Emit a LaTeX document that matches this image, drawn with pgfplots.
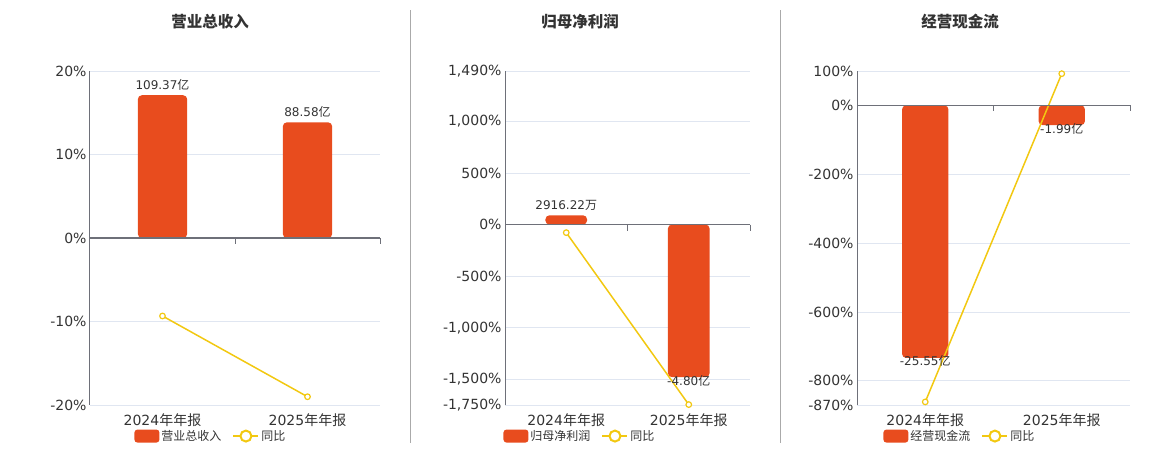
\documentclass[border=0pt]{standalone}
\usepackage{fontspec}
\setmainfont{DejaVu Sans}
\newfontfamily\cjk{Noto Sans CJK SC}
\usepackage{pgfplots}
\pgfplotsset{compat=1.18}
\definecolor{barc}{HTML}{E84C1E}
\definecolor{linec}{HTML}{F2C811}
\definecolor{txt}{HTML}{333333}
\definecolor{gridc}{HTML}{E0E6F1}
\definecolor{axc}{HTML}{6E7079}
\definecolor{sepc}{HTML}{AAAAAA}
\protected\def\yi{{\cjk 亿}}
\protected\def\wan{{\cjk 万}}
\pgfplotsset{
  panel/.style={
    scale only axis, height=334pt,
    xmin=-0.5, xmax=1.5,
    axis y line*=left, axis x line*=bottom,
    x axis line style={draw=none},
    y axis line style={axc, line width=1pt},
    xtick={0,1}, xticklabels={{2024{\cjk 年年报}},{2025{\cjk 年年报}}},
    major tick style={draw=none},
    ymajorgrids, grid style={gridc, line width=0.8pt},
    tick label style={font=\fontsize{14}{16}\selectfont, text=txt},
    xticklabel style={yshift=-5pt},
    yticklabel={\pgfmathprintnumber[assume math mode=true]{\tick}\%},
    scaled y ticks=false,
    clip=false,
    legend style={draw=none, fill=none, font=\fontsize{12}{14}\selectfont\cjk, text=txt,
      legend columns=-1, anchor=center,
      /tikz/every even column/.append style={column sep=9pt}},
  },
  barpos/.style={ybar, bar width=0.34, bar shift=0pt, fill=barc, draw=none, rounded corners=4pt,
    point meta=explicit symbolic, nodes near coords,
    every node near coord/.append style={font=\fontsize{12}{14}\selectfont, text=txt, yshift=1pt},
    legend image code/.code={\fill[barc, rounded corners=3pt] (0pt,-6.5pt) rectangle (25pt,6.5pt);}},
  barneg/.style={ybar, bar width=0.34, bar shift=0pt, fill=barc, draw=none, rounded corners=4pt,
    point meta=explicit symbolic, nodes near coords,
    every node near coord/.append style={font=\fontsize{12}{14}\selectfont, text=txt, yshift=-12.5pt},
    legend image code/.code={\fill[barc, rounded corners=3pt] (0pt,-6.5pt) rectangle (25pt,6.5pt);}},
  yoy/.style={linec, line width=1.5pt, mark=*, mark size=2.8pt,
    mark options={fill=white, draw=linec, line width=1.2pt},
    legend image code/.code={\draw[linec, line width=2pt] (0pt,0pt) -- (25pt,0pt);
      \draw[linec, line width=2pt, fill=white] (12.5pt,0pt) circle (5.5pt);}},
}
\begin{document}
\begin{tikzpicture}
\path[use as bounding box] (0pt,0pt) rectangle (1160pt,450pt);
% Panel 1
\begin{axis}[panel, at={(90pt,45pt)}, anchor=south west, width=290pt,
  ymin=-20, ymax=20, ytick={-20,-10,0,10,20},
  legend style={at={(0.417,-0.093)}}]
\addplot[barpos] coordinates {(0,17.1) [109.37\yi] (1,13.85) [88.58\yi]};
\addlegendentry{营业总收入}
\addplot[yoy] coordinates {(0,-9.34) (1,-19.01)};
\addlegendentry{同比}
\draw[axc, line width=1.6pt] (axis cs:-0.5,0) -- (axis cs:1.5,0);
\draw[axc, line width=1pt] (axis cs:0.5,0) -- ++(0pt,-6pt);
\draw[axc, line width=1pt] (axis cs:1.5,0) -- ++(0pt,-6pt);
\end{axis}
% Panel 2
\begin{axis}[panel, at={(505pt,45pt)}, anchor=south west, width=245pt,
  ymin=-1750, ymax=1490, ytick={-1750,-1500,-1000,-500,0,500,1000,1490},
  legend style={at={(0.306,-0.093)}}]
\addplot[barpos] coordinates {(0,90) [2916.22\wan]};
\addlegendentry{归母净利润}
\addplot[barneg, forget plot] coordinates {(1,-1480) [-4.80\yi]};
\addplot[yoy] coordinates {(0,-78) (1,-1746)};
\addlegendentry{同比}
\draw[axc, line width=1.6pt] (axis cs:-0.5,0) -- (axis cs:1.5,0);
\draw[axc, line width=1pt] (axis cs:0.5,0) -- ++(0pt,-6pt);
\draw[axc, line width=1pt] (axis cs:1.5,0) -- ++(0pt,-6pt);
\end{axis}
% Panel 3
\begin{axis}[panel, at={(857pt,45pt)}, anchor=south west, width=273pt,
  ymin=-870, ymax=100, ytick={-870,-800,-600,-400,-200,0,100},
  legend style={at={(0.377,-0.093)}}]
\addplot[barneg] coordinates {(0,-733) [-25.55\yi] (1,-57) [-1.99\yi]};
\addlegendentry{经营现金流}
\addplot[yoy] coordinates {(0,-861) (1,92.2)};
\addlegendentry{同比}
\draw[axc, line width=1.6pt] (axis cs:-0.5,0) -- (axis cs:1.5,0);
\draw[axc, line width=1pt] (axis cs:0.5,0) -- ++(0pt,-6pt);
\draw[axc, line width=1pt] (axis cs:1.5,0) -- ++(0pt,-6pt);
\end{axis}
% titles
\node[text=txt, font=\fontsize{15.5}{18}\selectfont\cjk\bfseries] at (210pt,428pt) {营业总收入};
\node[text=txt, font=\fontsize{15.5}{18}\selectfont\cjk\bfseries] at (580pt,428pt) {归母净利润};
\node[text=txt, font=\fontsize{15.5}{18}\selectfont\cjk\bfseries] at (960pt,428pt) {经营现金流};
% separators
\draw[sepc, line width=1pt] (410.5pt,7pt) -- (410.5pt,440pt);
\draw[sepc, line width=1pt] (780.5pt,7pt) -- (780.5pt,440pt);
\end{tikzpicture}
\end{document}
